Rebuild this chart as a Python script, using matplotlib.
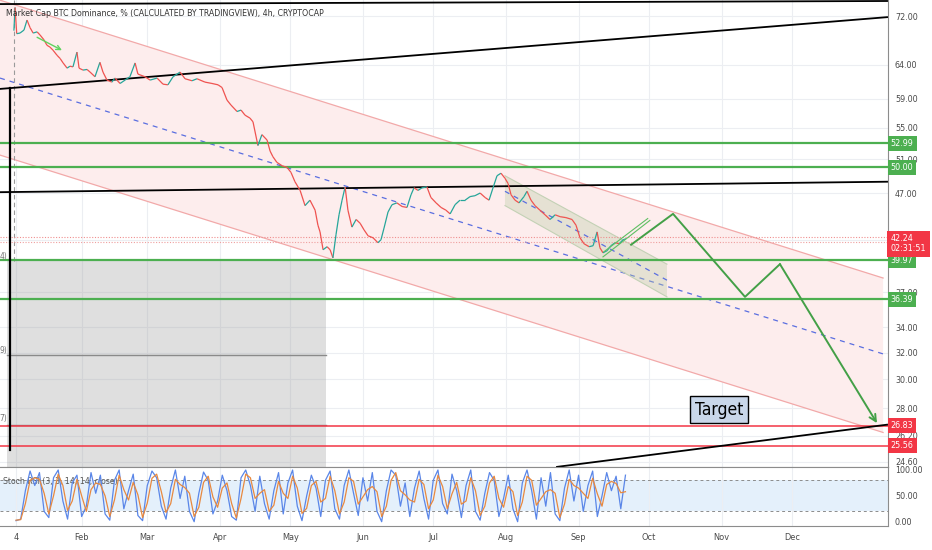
import numpy as np
import matplotlib
matplotlib.use("Agg")
import matplotlib.pyplot as plt
import matplotlib.transforms as mtransforms
from matplotlib.collections import LineCollection

plt.rcParams['font.family'] = ['DejaVu Sans']
plt.rcParams['font.stretch'] = 'condensed'

# ---- data (days since 2021-01-04, dominance %) ----
price_days = [-0.9, -0.4, 0.3, 1.7, 3.4, 4.7, 6.0, 7.3, 9.0, 10.2,
              11.9, 13.2, 14.5, 15.8, 17.5, 18.8, 20.1, 21.8, 23.0, 24.3,
              26.0, 26.9, 28.6, 30.3, 31.6, 33.7, 35.8, 37.1, 38.8, 40.9,
              42.2, 44.4, 46.5, 48.6, 50.8, 52.0, 55.0, 57.2, 60.2, 62.7,
              64.8, 67.0, 70.0, 72.1, 75.1, 77.2, 80.6, 83.6, 86.2, 87.9,
              90.0, 91.7, 94.3, 96.0, 97.7, 99.8, 101.1, 103.2, 104.9, 107.1,
              108.4, 109.6, 111.3, 113.5, 115.6, 117.3, 119.0, 121.2, 123.3, 125.4,
              127.6, 128.8, 129.7, 131.0, 132.7, 134.0, 135.2, 136.5, 137.8, 139.1,
              140.4, 141.6, 143.3, 145.1, 146.8, 148.5, 150.2, 152.3, 154.4, 155.7,
              157.0, 158.7, 160.4, 162.5, 164.7, 166.8, 168.5, 169.8, 171.5, 173.2,
              175.3, 177.0, 179.2, 181.3, 183.4, 185.2, 187.3, 189.4, 191.6, 193.7,
              195.8, 198.0, 200.1, 201.8, 203.5, 205.2, 206.9, 208.6, 209.9, 211.2,
              212.9, 214.6, 216.7, 218.0, 219.7, 221.4, 223.5, 225.7, 227.8, 230.0,
              232.1, 234.6, 237.2, 238.9, 240.6, 242.3, 244.5, 246.2, 247.9, 249.1,
              250.4, 252.1, 253.8, 255.6, 257.3, 259.0, 260.2]
price_vals = [69.5, 73.5, 69.0, 69.1, 69.6, 71.3, 70.0, 69.1, 69.3, 68.8,
              68.0, 67.1, 66.8, 66.3, 65.5, 65.0, 64.3, 63.5, 63.8, 63.7,
              66.0, 63.5, 63.2, 63.3, 62.9, 62.2, 64.4, 62.9, 61.7, 61.4,
              62.0, 61.2, 61.7, 62.2, 64.3, 62.6, 62.2, 61.7, 62.0, 61.1,
              61.0, 62.2, 62.9, 61.9, 61.6, 61.9, 61.4, 61.2, 61.0, 60.6,
              58.8, 58.1, 57.2, 57.4, 56.7, 56.3, 55.8, 52.7, 54.1, 53.4,
              52.0, 51.3, 50.6, 50.2, 50.0, 49.4, 48.3, 47.3, 45.6, 46.2,
              45.1, 43.5, 42.8, 41.0, 41.3, 41.0, 40.2, 42.5, 44.6, 46.2,
              47.7, 45.1, 43.3, 44.1, 43.7, 43.0, 42.4, 42.2, 41.7, 42.0,
              43.2, 44.9, 45.7, 45.9, 45.5, 45.4, 46.8, 47.6, 47.3, 47.6,
              47.7, 46.5, 45.9, 45.4, 45.1, 44.7, 45.7, 46.2, 46.2, 46.6,
              46.7, 47.0, 46.5, 46.2, 47.6, 49.0, 49.3, 48.7, 48.1, 46.8,
              46.2, 45.9, 46.6, 47.2, 46.2, 45.6, 45.1, 44.6, 44.1, 44.6,
              44.4, 44.3, 44.1, 43.5, 42.2, 41.6, 41.3, 41.4, 42.8, 41.2,
              40.7, 40.9, 41.4, 41.7, 41.6, 42.0, 42.1]

# stoch RSI, one value every 2 days from day 0
stoch_k = [2, 5, 60, 98, 70, 95, 20, 8, 85, 100,
           40, 5, 75, 90, 10, 30, 95, 55, 90, 15,
           3, 80, 100, 25, 60, 92, 12, 2, 70, 98,
           85, 30, 5, 65, 100, 45, 88, 20, 0, 55,
           96, 80, 15, 40, 90, 60, 10, 3, 85, 100,
           70, 20, 88, 35, 5, 60, 95, 15, 75, 100,
           30, 2, 50, 90, 65, 10, 80, 98, 25, 5,
           70, 100, 55, 12, 85, 40, 95, 20, 0, 60,
           100, 90, 30, 75, 10, 65, 98, 45, 5, 80,
           100, 35, 15, 92, 60, 8, 70, 100, 20, 3,
           55, 95, 80, 10, 45, 90, 25, 0, 75, 100,
           60, 5, 85, 30, 95, 15, 2, 65, 100, 40,
           90, 20, 70, 98, 10, 50, 95, 60, 88, 25, 90]
stoch_d = [3, 4, 35, 80, 85, 82, 55, 15, 50, 92,
           70, 22, 40, 82, 50, 20, 62, 75, 72, 50,
           10, 42, 90, 62, 42, 76, 52, 8, 36, 84,
           92, 58, 18, 35, 82, 72, 66, 55, 10, 28,
           76, 88, 48, 28, 65, 75, 35, 7, 45, 92,
           85, 45, 55, 62, 20, 32, 78, 55, 45, 88,
           65, 16, 26, 70, 78, 38, 45, 88, 60, 15,
           38, 85, 78, 34, 48, 62, 68, 58, 10, 30,
           80, 95, 60, 52, 42, 38, 82, 72, 25, 42,
           90, 68, 25, 54, 76, 34, 40, 85, 60, 12,
           30, 75, 88, 45, 28, 68, 58, 12, 38, 88,
           80, 32, 45, 58, 62, 55, 8, 34, 82, 70,
           65, 55, 45, 84, 54, 30, 72, 78, 74, 56, 58]

green_levels = [52.99, 50.00, 39.97, 36.39]
red_levels = [26.83, 25.56]
last_price = 42.24
countdown = "02:31:51"

ytick_vals = [72, 64, 59, 55, 51, 47, 42, 37, 34, 32, 30, 28, 26.2, 24.6]
ytick_labels = ["72.00", "64.00", "59.00", "55.00", "51.00", "47.00", "42.00",
                "37.00", "34.00", "32.00", "30.00", "28.00", "26.20", "24.60"]

month_dates = ['2021-01-04', '2021-02-01', '2021-03-01', '2021-04-01', '2021-05-01',
               '2021-06-01', '2021-07-01', '2021-08-01', '2021-09-01', '2021-10-01',
               '2021-11-01', '2021-12-01']
month_labels = ['4', 'Feb', 'Mar', 'Apr', 'May', 'Jun', 'Jul', 'Aug', 'Sep', 'Oct', 'Nov', 'Dec']

# drawings: (day, value) pairs
channel_x = [-6.83, 369.9]
channel_top = [74.8, 38.3]
channel_mid = [62.0, 31.9]
channel_bot = [51.5, 26.4]

small_x = [208.6, 277.7]
small_top = [49.0, 39.6]
small_mid = [47.2, 38.1]
small_bot = [45.6, 36.6]

wedge_a = ([250.8, 269.5], [40.8, 44.2])
wedge_b = ([250.4, 270.4], [40.3, 44.0])

path_days = [262.4, 280.3, 311.0, 325.9, 367.3]
path_vals = [41.5, 44.7, 36.6, 39.6, 27.0]

black_lines = [([-6.83, 371.6], [74.1, 74.65]),
               ([-6.83, 371.6], [60.4, 71.8]),
               ([-6.83, 371.6], [47.1, 48.3]),
               ([230.8, 371.6], [24.3, 26.9])]

box_days = [-3.8, 132.3]
box_lines = [31.8, 26.9]

# ---- figure ----
W, H = 932, 550
fig = plt.figure(figsize=(W / 100, H / 100), dpi=100)
ax = fig.add_axes([0, 83.3 / H, 888 / W, 466.7 / H])
ax2 = fig.add_axes([0, 24 / H, 888 / W, 59 / H], sharex=ax)

base = np.datetime64('2021-01-04')
tick_pos = (np.array(month_dates, dtype='datetime64[D]') - base).astype(float)

ax.set_yscale('log')
ax.set_ylim(24.31, 74.83)
ax.set_xlim(-6.83, 372.0)

grid_c = '#eceef2'
for a in (ax, ax2):
    a.set_xticks(tick_pos)
    a.xaxis.grid(True, color=grid_c, lw=0.8)
    a.set_axisbelow(True)
    for s in ('top', 'left'):
        a.spines[s].set_visible(False)
    a.spines['right'].set_color('#8c8c8c')
    a.spines['bottom'].set_color('#8c8c8c')
    a.tick_params(length=0, colors='#4a4a4a', labelsize=6.4)
    a.yaxis.tick_right()

ax.yaxis.set_minor_locator(matplotlib.ticker.NullLocator())
ax.set_yticks(ytick_vals)
ax.set_yticklabels(ytick_labels)
ax.yaxis.grid(True, color=grid_c, lw=0.8)
ax.tick_params(axis='y', pad=5)
ax.tick_params(axis='x', labelbottom=False)

# pink regression channel
ax.fill([channel_x[0], channel_x[1], channel_x[1], channel_x[0]],
        [channel_top[0], channel_top[1], channel_bot[1], channel_bot[0]],
        color='#fdeded', lw=0, zorder=1)
ax.plot(channel_x, channel_top, color='#f2a9a9', lw=0.9, zorder=2)
ax.plot(channel_x, channel_bot, color='#f2a9a9', lw=0.9, zorder=2)
ax.plot(channel_x, channel_mid, color='#5a6ee0', lw=0.9, ls=(0, (4, 4)), zorder=2)

# gray box
ax.fill([box_days[0], box_days[1], box_days[1], box_days[0]],
        [39.9, 39.9, 24.0, 24.0], color='#9e9e9e', alpha=0.33, lw=0, zorder=2)
for v in box_lines:
    ax.plot(box_days, [v, v], color='#8a8a8a', lw=1.0, zorder=2.1)

# small channel
ax.fill([small_x[0], small_x[1], small_x[1], small_x[0]],
        [small_top[0], small_top[1], small_bot[1], small_bot[0]],
        color='#b9cca5', alpha=0.35, lw=0, zorder=2)
ax.plot(small_x, small_top, color='#c3d1b5', lw=0.8, zorder=2)
ax.plot(small_x, small_bot, color='#c3d1b5', lw=0.8, zorder=2)
ax.plot(small_x, small_mid, color='#5a6ee0', lw=0.9, ls=(0, (4, 4)), zorder=2)

# dashed vertical + solid black vertical
ax.plot([-0.85, -0.85], [74.8, 39.6], color='#9a9a9a', lw=0.8, ls=(0, (4, 3)), zorder=2)
ax.plot([-2.56, -2.56], [60.6, 25.3], color='black', lw=1.6, zorder=4)

# horizontal levels
for v in green_levels:
    ax.axhline(v, color='#4caf50', lw=1.6, zorder=3)
for v in red_levels:
    ax.axhline(v, color='#f23645', lw=1.1, zorder=3)
ax.axhline(last_price, color='#ef8f8f', lw=0.8, ls=(0, (1, 1.5)), zorder=2.5)
ax.axhline(41.8, color='#ef9f9f', lw=0.8, ls=(0, (1, 1.5)), zorder=2.5)

for xs, ys in black_lines:
    ax.plot(xs, ys, color='black', lw=1.3, zorder=3.5)

# price line, coloured by direction
pts = np.column_stack([price_days, price_vals])
segs = np.stack([pts[:-1], pts[1:]], axis=1)
cols = ['#26a69a' if b >= a else '#ef5350' for a, b in zip(price_vals[:-1], price_vals[1:])]
ax.add_collection(LineCollection(segs, colors=cols, lw=0.9, zorder=4))

# wedge and projection path
for xs, ys in (wedge_a, wedge_b):
    ax.plot(xs, ys, color='#5fbf63', lw=0.8, zorder=4)
ax.plot(path_days[:-1], path_vals[:-1], color='#43a047', lw=1.4, zorder=4)
ax.annotate('', xy=(path_days[-1], path_vals[-1]), xytext=(path_days[-2], path_vals[-2]),
            arrowprops=dict(arrowstyle='->', color='#43a047', lw=1.4,
                            shrinkA=0, shrinkB=0, mutation_scale=12), zorder=4)
ax.annotate('', xy=(19.6, 66.3), xytext=(9.0, 68.4),
            arrowprops=dict(arrowstyle='->', color='#5fd35f', lw=1.0,
                            shrinkA=0, shrinkB=0, mutation_scale=8), zorder=4)

ax.text(299.9, 27.9, 'Target', ha='center', va='center', fontsize=12.5, color='black',
        zorder=6, bbox=dict(boxstyle='square,pad=0.25', fc='#c9d7ea', ec='black', lw=1.0))

for v, t in ((40.3, '4)'), (32.2, '9)'), (27.3, '7)')):
    ax.text(-7.2, v, t, fontsize=6, color='#777777', va='center', ha='left', zorder=5)

# right-axis value boxes
trans = mtransforms.blended_transform_factory(ax.transAxes, ax.transData)
for v in green_levels:
    ax.text(1.003, v, f"{v:.2f}", transform=trans, ha='left', va='center', fontsize=6.4,
            color='white', zorder=7, clip_on=False,
            bbox=dict(boxstyle='square,pad=0.35', fc='#4caf50', ec='none'))
for v in red_levels:
    ax.text(1.003, v, f"{v:.2f}", transform=trans, ha='left', va='center', fontsize=6.4,
            color='white', zorder=7, clip_on=False,
            bbox=dict(boxstyle='square,pad=0.35', fc='#f23645', ec='none'))
ax.text(1.003, 41.6, f"{last_price:.2f}\n{countdown}", transform=trans, ha='left',
        va='center', fontsize=6.4, color='white', zorder=7, clip_on=False, linespacing=1.15,
        bbox=dict(boxstyle='square,pad=0.4', fc='#f23645', ec='none'))

fig.text(6 / W, 1 - 14 / H, 'Market Cap BTC Dominance, % (CALCULATED BY TRADINGVIEW), 4h, CRYPTOCAP',
         fontsize=6.3, color='#333333', va='center', ha='left')

# ---- stoch RSI pane ----
ax2.set_ylim(-8.3, 105.8)
ax2.axhspan(20, 80, color='#e4f0fb', lw=0, zorder=0)
ax2.axhline(80, color='#8c8c8c', lw=0.7, ls=(0, (3, 3)), zorder=1)
ax2.axhline(20, color='#8c8c8c', lw=0.7, ls=(0, (3, 3)), zorder=1)
ax2.spines['top'].set_visible(True)
ax2.spines['top'].set_color('#8c8c8c')
sx = np.arange(len(stoch_k)) * 2.0
ax2.plot(sx, stoch_k, color='#5a86e8', lw=0.9, zorder=3)
ax2.plot(sx, stoch_d, color='#e8893f', lw=0.9, zorder=3)
ax2.set_yticks([100, 50, 0])
ax2.set_yticklabels(['100.00', '50.00', '0.00'])
ax2.tick_params(axis='y', pad=5)
ax2.set_xticklabels(month_labels)
ax2.tick_params(axis='x', pad=5, labelsize=6.6)
ax2.text(-5.5, 76.8, 'Stoch RSI (3, 3, 14, 14, close)', fontsize=6.2, color='#555555',
         va='center', ha='left', zorder=2)

fig.savefig('out.png', dpi=100)
